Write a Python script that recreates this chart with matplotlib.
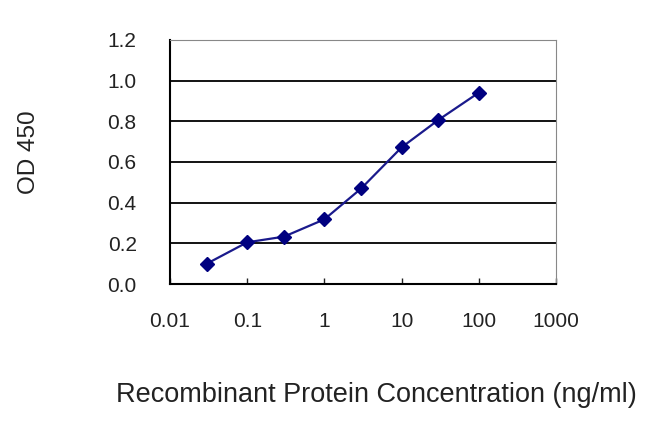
import matplotlib.pyplot as plt

plt.rcParams['font.family'] = ['Liberation Sans', 'DejaVu Sans']

conc = [0.03, 0.1, 0.3, 1, 3, 10, 30, 100]
od450 = [0.10, 0.205, 0.233, 0.318, 0.47, 0.672, 0.807, 0.941]
x_ticks = [0.01, 0.1, 1, 10, 100, 1000]
x_labels = ['0.01', '0.1', '1', '10', '100', '1000']
y_ticks = [0.0, 0.2, 0.4, 0.6, 0.8, 1.0, 1.2]

fig = plt.figure(figsize=(6.5, 4.33), dpi=100)
ax = fig.add_axes([170 / 650, 1 - 284 / 433, 386 / 650, 244 / 433])

for y in y_ticks[1:-1]:
    ax.axhline(y, color='black', lw=1.3, zorder=1)

ax.plot(conc, od450, color='#1a1a8c', lw=1.6, marker='D', markersize=7,
        markerfacecolor='#000080', markeredgecolor='#000080', zorder=3)

ax.set_xscale('log')
ax.set_xlim(0.01, 1000)
ax.set_ylim(0, 1.2)
ax.set_xticks(x_ticks)
ax.set_xticklabels(x_labels)
ax.minorticks_off()
ax.set_yticks(y_ticks)
ax.set_yticklabels(['%.1f' % v for v in y_ticks])

ax.tick_params(axis='x', direction='in', length=4, width=1, pad=20,
               labelsize=15, colors='#222222')
ax.tick_params(axis='y', length=0, pad=24, labelsize=15, colors='#222222')

ax.spines['left'].set_color('black')
ax.spines['bottom'].set_color('black')
ax.spines['left'].set_linewidth(1.5)
ax.spines['bottom'].set_linewidth(1.5)
ax.spines['top'].set_color('#888888')
ax.spines['right'].set_color('#888888')

ax.set_ylabel('OD 450', fontsize=17.5, color='#222222')
ax.set_xlabel('Recombinant Protein Concentration (ng/ml)', fontsize=19.5,
              color='#222222')
# label coords must come after set_*label, which resets the position
ax.yaxis.set_label_coords(-0.337, 0.54)
ax.xaxis.set_label_coords(0.534, -0.40)

fig.savefig('out.png', dpi=100)
